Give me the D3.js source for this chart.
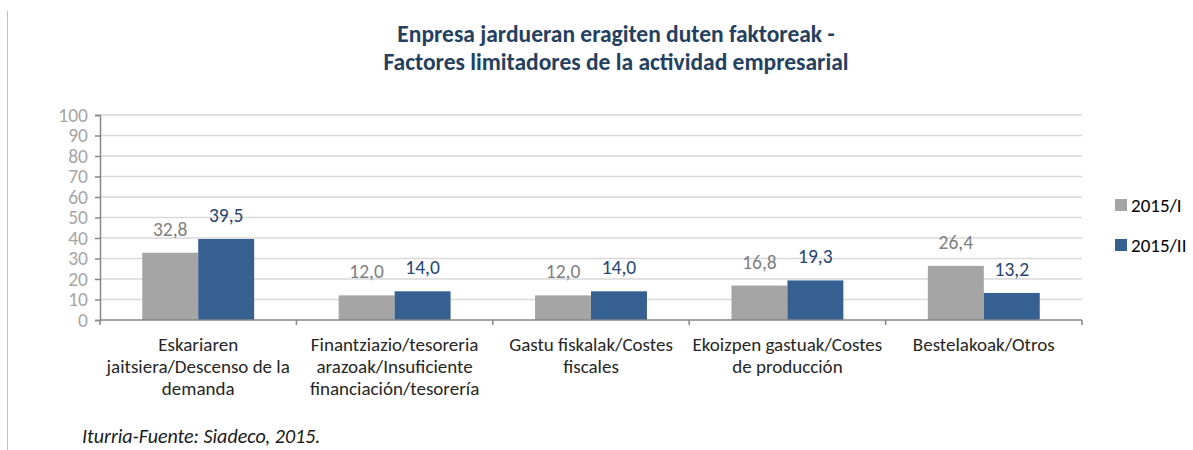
<!DOCTYPE html>
<html>
<head>
<meta charset="utf-8">
<script src="https://cdnjs.cloudflare.com/ajax/libs/d3/7.8.5/d3.min.js"></script>
<style>
  body { margin: 0; background: #fff; }
  svg { font-family: Carlito, Calibri, Lato, "Open Sans", sans-serif; }
</style>
</head>
<body>
<svg width="1193" height="450"></svg>
<script>
var categories = [
  ["Eskariaren", "jaitsiera/Descenso de la", "demanda"],
  ["Finantziazio/tesoreria", "arazoak/Insuficiente", "financiación/tesorería"],
  ["Gastu fiskalak/Costes", "fiscales"],
  ["Ekoizpen gastuak/Costes", "de producción"],
  ["Bestelakoak/Otros"]
];
var seriesNames = ["2015/I", "2015/II"];
var values1 = [32.8, 12.0, 12.0, 16.8, 26.4];
var values2 = [39.5, 14.0, 14.0, 19.3, 13.2];
var yTicks = [0, 10, 20, 30, 40, 50, 60, 70, 80, 90, 100];

var colors = ["#a5a5a5", "#366092"];
var labelColors = ["#808080", "#254674"];
var fontFam = "Carlito, Calibri, Lato, 'Open Sans', sans-serif";

var svg = d3.select("svg");

// border line on the left
svg.append("line")
  .attr("x1", 7.5).attr("x2", 7.5)
  .attr("y1", 11).attr("y2", 450)
  .attr("stroke", "#bfbfbf").attr("stroke-width", 1);

// title
svg.append("text")
  .attr("x", 616).attr("y", 42)
  .attr("text-anchor", "middle")
  .attr("font-size", 23.5).attr("font-weight", "bold")
  .attr("fill", "#243f60")
  .text("Enpresa jardueran eragiten duten faktoreak -");
svg.append("text")
  .attr("x", 616).attr("y", 70)
  .attr("text-anchor", "middle")
  .attr("font-size", 23.5).attr("font-weight", "bold")
  .attr("fill", "#243f60")
  .text("Factores limitadores de la actividad empresarial");

var plotLeft = 100, plotRight = 1082, plotTop = 115, plotBottom = 320;

var x = d3.scaleBand()
  .domain(d3.range(categories.length))
  .range([plotLeft, plotRight])
  .paddingInner(0)
  .paddingOuter(0);

var xs = d3.scaleBand()
  .domain([0, 1])
  .range([0, x.bandwidth()])
  .paddingInner(0)
  .paddingOuter(0.755);

var y = d3.scaleLinear().domain([0, 100]).range([plotBottom, plotTop]);

// grid
svg.append("g")
  .selectAll("line")
  .data(yTicks.slice(1))
  .enter()
  .append("line")
  .attr("x1", plotLeft).attr("x2", plotRight)
  .attr("y1", function(d) { return y(d); })
  .attr("y2", function(d) { return y(d); })
  .attr("stroke", "#d9d9d9").attr("stroke-width", 1.5);

// y axis
var yAxis = svg.append("g")
  .attr("transform", "translate(" + plotLeft + ",0)")
  .call(d3.axisLeft(y).tickValues(yTicks).tickSize(5).tickPadding(7));
yAxis.select(".domain").attr("stroke", "#868686").attr("stroke-width", 1.5);
yAxis.selectAll(".tick line").attr("stroke", "#868686").attr("stroke-width", 1.5);
yAxis.selectAll(".tick text")
  .attr("font-size", 19.5).attr("fill", "#a6a6a6")
  .attr("font-family", fontFam);

// bars
var data = categories.map(function(c, i) { return [values1[i], values2[i]]; });

var groups = svg.append("g")
  .selectAll("g")
  .data(data)
  .enter()
  .append("g")
  .attr("transform", function(d, i) { return "translate(" + x(i) + ",0)"; });

groups.selectAll("rect")
  .data(function(d) { return d; })
  .enter()
  .append("rect")
  .attr("x", function(d, j) { return xs(j); })
  .attr("width", xs.bandwidth())
  .attr("y", function(d) { return y(d); })
  .attr("height", function(d) { return y(0) - y(d); })
  .attr("fill", function(d, j) { return colors[j]; });

groups.selectAll("text.val")
  .data(function(d) { return d; })
  .enter()
  .append("text")
  .classed("val", true)
  .attr("x", function(d, j) { return xs(j) + xs.bandwidth() / 2; })
  .attr("y", function(d) { return y(d) - 17; })
  .attr("text-anchor", "middle")
  .attr("font-size", 19.5)
  .attr("fill", function(d, j) { return labelColors[j]; })
  .text(function(d) { return d.toFixed(1).replace(".", ","); });

// x axis
var xAxis = svg.append("g")
  .attr("transform", "translate(0," + plotBottom + ")");
xAxis.append("line")
  .attr("x1", plotLeft).attr("x2", plotRight)
  .attr("stroke", "#868686").attr("stroke-width", 1.5);
xAxis.selectAll("line.tick")
  .data(d3.range(categories.length + 1))
  .enter()
  .append("line")
  .classed("tick", true)
  .attr("x1", function(i) { return plotLeft + i * x.step(); })
  .attr("x2", function(i) { return plotLeft + i * x.step(); })
  .attr("y1", 0).attr("y2", 5)
  .attr("stroke", "#868686").attr("stroke-width", 1.5);

var catLabels = svg.append("g")
  .selectAll("text")
  .data(categories)
  .enter()
  .append("text")
  .attr("text-anchor", "middle")
  .attr("font-size", 19)
  .attr("fill", "#262626");
catLabels.selectAll("tspan")
  .data(function(d, i) { return d.map(function(t) { return { t: t, i: i }; }); })
  .enter()
  .append("tspan")
  .attr("x", function(d) { return x(d.i) + x.bandwidth() / 2; })
  .attr("y", function(d, k) { return 351 + k * 22; })
  .text(function(d) { return d.t; });

// legend
var legend = svg.append("g")
  .selectAll("g")
  .data(seriesNames)
  .enter()
  .append("g")
  .attr("transform", function(d, i) { return "translate(1115," + (205 + i * 40) + ")"; });
legend.append("rect")
  .attr("x", 0).attr("y", -6)
  .attr("width", 12).attr("height", 12)
  .attr("fill", function(d, i) { return colors[i]; });
legend.append("text")
  .attr("x", 16).attr("y", 7)
  .attr("font-size", 19)
  .attr("fill", "#000")
  .text(function(d) { return d; });

// source
svg.append("text")
  .attr("x", 82).attr("y", 443)
  .attr("font-size", 20).attr("font-style", "italic")
  .attr("fill", "#1a1a1a")
  .text("Iturria-Fuente: Siadeco, 2015.");
</script>
</body>
</html>
